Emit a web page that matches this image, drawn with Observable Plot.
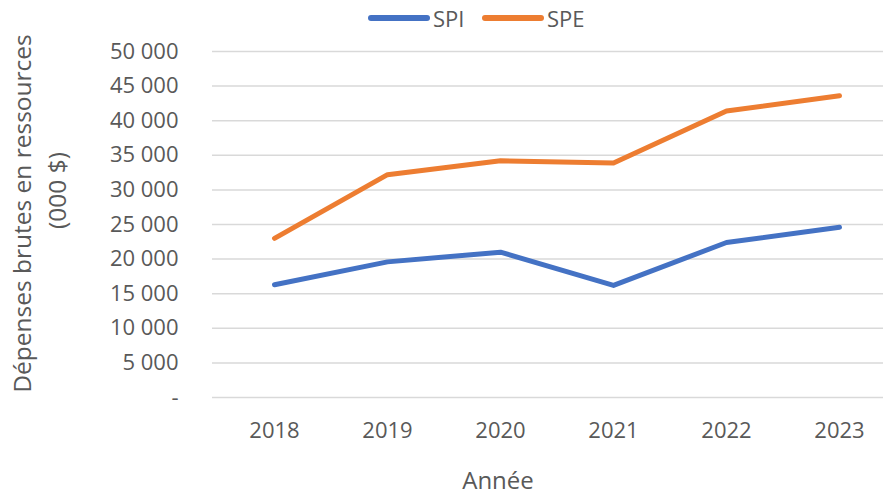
<!DOCTYPE html>
<html>
<head>
<meta charset="utf-8">
<script src="https://cdn.jsdelivr.net/npm/d3@7"></script>
<script src="https://cdn.jsdelivr.net/npm/@observablehq/plot@0.6"></script>
<style>
  body { margin: 0; background: #fff; font-family: "Open Sans", sans-serif; }
  #wrap { position: relative; width: 883px; height: 497px; }
  #legend { position: absolute; left: 0; top: 0; width: 883px; height: 38px; color: #595959; font-size: 22px; }
  .item { position: absolute; top: 3px; display: flex; align-items: center; line-height: 30px; }
  .sw { width: 62px; height: 6px; border-radius: 3px; margin-right: 3px; }
</style>
</head>
<body>
<div id="wrap">
  <div id="chart"></div>
  <div id="legend"></div>
</div>
<script>
const years = ["2018", "2019", "2020", "2021", "2022", "2023"];
const spi = [16300, 19600, 21000, 16200, 22400, 24600];
const spe = [23000, 32200, 34200, 33900, 41400, 43600];
const seriesNames = ["SPI", "SPE"];
const colors = ["#4472C4", "#ED7D31"];
const yTicks = [0, 5000, 10000, 15000, 20000, 25000, 30000, 35000, 40000, 45000, 50000];
const yTitle = ["Dépenses brutes en ressources", "(000 $)"];
const xTitle = "Année";

const rows = [];
years.forEach((y, i) => {
  rows.push({year: y, value: spi[i], series: "SPI"});
  rows.push({year: y, value: spe[i], series: "SPE"});
});

const legend = document.getElementById("legend");
const lx = [368, 482];
seriesNames.forEach((s, i) => {
  const d = document.createElement("div");
  d.className = "item";
  d.style.left = lx[i] + "px";
  d.innerHTML = `<span class="sw" style="background:${colors[i]}"></span><span>${s}</span>`;
  legend.appendChild(d);
});

const fmt = d => d === 0 ? "-" : d3.format(",")(d).replace(/,/g, "\u00a0");

const chart = Plot.plot({
  width: 883,
  height: 497,
  marginLeft: 212,
  marginRight: 0,
  marginTop: 51,
  marginBottom: 100,
  style: {fontFamily: "Open Sans, sans-serif", fontSize: "22px", color: "#595959"},
  x: {type: "point", domain: years, range: [272, 840], padding: 0, label: null},
  y: {domain: [0, 50000], label: null},
  color: {domain: seriesNames, range: colors},
  marks: [
    Plot.gridY(yTicks, {stroke: "#d9d9d9", strokeOpacity: 1, strokeWidth: 1.5}),
    Plot.axisY(yTicks, {tickSize: 0, tickPadding: 34, tickFormat: fmt, fontSize: 22, fill: "#595959", label: null}),
    Plot.axisX(years, {tickSize: 0, tickPadding: 25, fontSize: 22, fill: "#595959", label: null}),
    Plot.line(rows, {x: "year", y: "value", stroke: "series", strokeWidth: 5, strokeLinecap: "round", strokeLinejoin: "round"}),
    Plot.text([yTitle[0]], {
      frameAnchor: "left", dx: -189, dy: -11, rotate: -90,
      fontSize: 24.5, fill: "#595959", textAnchor: "middle", lineAnchor: "middle"
    }),
    Plot.text([yTitle[1]], {
      frameAnchor: "left", dx: -154, dy: -34, rotate: -90,
      fontSize: 24.5, fill: "#595959", textAnchor: "middle", lineAnchor: "middle"
    }),
    Plot.text([xTitle], {frameAnchor: "bottom", dx: -50, dy: 84, fontSize: 24, fill: "#595959", lineAnchor: "middle"})
  ]
});
document.getElementById("chart").appendChild(chart);
</script>
</body>
</html>
